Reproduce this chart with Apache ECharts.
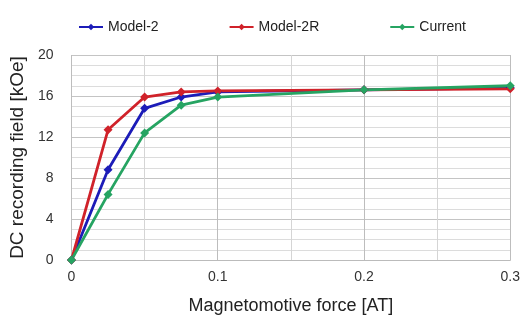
<!DOCTYPE html>
<html>
<head>
<meta charset="utf-8">
<script src="https://cdn.jsdelivr.net/npm/echarts@6/dist/echarts.min.js"></script>
<style>
  html, body { margin: 0; padding: 0; background: #fff; }
  #chart { width: 523px; height: 322px; }
</style>
</head>
<body>
<div id="chart"></div>
<script>
// data
var mmf = [0, 0.025, 0.05, 0.075, 0.1, 0.2, 0.3];
var model2 = [0, 8.8, 14.8, 15.9, 16.4, 16.6, 16.8];
var model2R = [0, 12.7, 15.9, 16.4, 16.5, 16.6, 16.7];
var current = [0, 6.4, 12.4, 15.1, 15.9, 16.6, 17.0];

function pairs(ys) {
    return ys.map(function (y, i) { return [mmf[i], y]; });
}

function lineSeries(name, ys, color) {
    return {
        name: name,
        type: 'line',
        data: pairs(ys),
        symbol: 'diamond',
        symbolSize: 9,
        lineStyle: { width: 2.8, color: color },
        itemStyle: { color: color },
        emphasis: { disabled: true }
    };
}

var chart = echarts.init(document.getElementById('chart'));
var option = {
    animation: false,
    textStyle: { fontFamily: 'Liberation Sans, Arial, sans-serif' },
    legend: {
        top: 15,
        left: 73,
        itemGap: 70,
        itemWidth: 24,
        itemHeight: 8,
        textStyle: { fontSize: 14, color: '#222' },
        data: ['Model-2', 'Model-2R', 'Current']
    },
    grid: {
        left: 71,
        right: 11,
        top: 55,
        bottom: 62
    },
    xAxis: {
        type: 'value',
        min: 0,
        max: 0.3,
        interval: 0.1,
        name: 'Magnetomotive force [AT]',
        nameLocation: 'middle',
        nameGap: 37,
        nameTextStyle: { fontSize: 18, color: '#222' },
        axisLine: { lineStyle: { color: '#bbb' } },
        axisTick: { show: false },
        axisLabel: { fontSize: 14, color: '#333', margin: 10 },
        splitLine: { show: true, lineStyle: { color: '#bdbdbd' } },
        minorTick: { show: false, splitNumber: 2 },
        minorSplitLine: { show: true, lineStyle: { color: '#d5d5d5' } }
    },
    yAxis: {
        type: 'value',
        min: 0,
        max: 20,
        interval: 4,
        name: 'DC recording field [kOe]',
        nameLocation: 'middle',
        nameGap: 38,
        nameTextStyle: { fontSize: 19, color: '#222' },
        axisLine: { show: false },
        axisTick: { show: false },
        axisLabel: { fontSize: 14, color: '#333', margin: 18 },
        splitLine: { show: true, lineStyle: { color: '#c4c4c4' } },
        minorTick: { show: false, splitNumber: 4 },
        minorSplitLine: { show: true, lineStyle: { color: '#dcdcdc' } }
    },
    series: [
        lineSeries('Model-2', model2, '#1c1cb8'),
        lineSeries('Model-2R', model2R, '#d0222a'),
        lineSeries('Current', current, '#26a462')
    ]
};
chart.setOption(option);
window.addEventListener('resize', function () {
    chart.resize();
});
</script>
</body>
</html>
